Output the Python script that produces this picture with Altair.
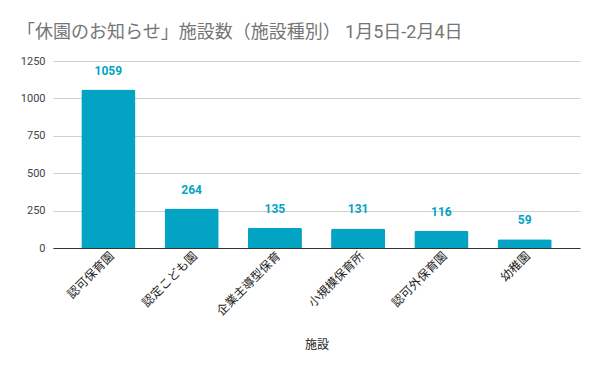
import altair as alt
import pandas as pd

categories = ["認可保育園", "認定こども園", "企業主導型保育", "小規模保育所", "認可外保育園", "幼稚園"]
values = [1059, 264, 135, 131, 116, 59]
y_ticks = [0, 250, 500, 750, 1000, 1250]

df = pd.DataFrame({"施設": categories, "数": values})

font = "Roboto, Noto Sans CJK JP"
bar_color = "#03a3c3"

base = alt.Chart(df).encode(
    x=alt.X("施設:N", sort=categories,
            scale=alt.Scale(paddingInner=0.35, paddingOuter=0.34),
            axis=alt.Axis(labelAngle=-45, labelFontSize=12, labelColor="#222",
                          labelFont="Noto Sans CJK JP", ticks=False,
                          domainColor="#333", titleFontSize=12, titleFontWeight="normal",
                          titleColor="#222", titleFont="Noto Sans CJK JP", titlePadding=22)),
    y=alt.Y("数:Q", scale=alt.Scale(domain=[0, 1250], nice=False),
            axis=alt.Axis(values=y_ticks, title=None, ticks=False, domain=False, format="d",
                          labelFontSize=11, labelColor="#444", labelFont=font,
                          gridColor="#d0d0d0", labelPadding=8)),
)

bars = base.mark_bar(color=bar_color, cornerRadiusTopLeft=2, cornerRadiusTopRight=2)
labels = base.mark_text(dy=-12, fontSize=12, fontWeight="bold", color=bar_color, font=font,
                        baseline="bottom").encode(text="数:Q")

chart = (bars + labels).properties(
    width=527, height=187,
    title=alt.Title("「休園のお知らせ」施設数（施設種別） 1月5日-2月4日",
                    anchor="start", frame="group", fontSize=18, fontWeight="normal",
                    color="#757575", font=font, dx=-36, offset=13),
    autosize=alt.AutoSizeParams(type="none"),
    padding={"left": 45, "top": 53, "right": 12, "bottom": 115},
).configure_view(stroke=None)

chart.save("out.html", embed_options={"renderer": "svg", "actions": False})
